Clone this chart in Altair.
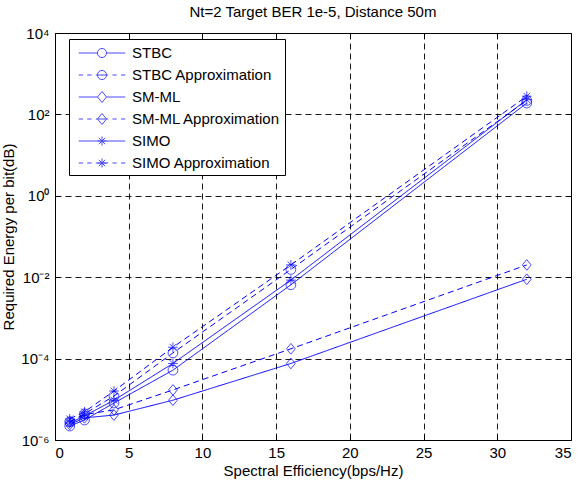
import altair as alt
import pandas as pd

# Spectral efficiency (bps/Hz) at which each scheme was evaluated
eff = [1, 2, 4, 8, 16, 32]

# Required energy per bit for each scheme
stbc = [2.2e-6, 3.1e-6, 8.1e-6, 5.2e-5, 6.5e-3, 1.9e2]
stbc_approx = [2.8e-6, 4.4e-6, 1.2e-5, 1.38e-4, 1.55e-2, 2.2e2]
smml = [2.4e-6, 3.5e-6, 4.1e-6, 9.5e-6, 7.6e-5, 8.9e-3]
smml_approx = [2.8e-6, 4.2e-6, 5.5e-6, 1.7e-5, 1.74e-4, 2.0e-2]
simo = [2.6e-6, 3.9e-6, 9.5e-6, 7.6e-5, 8.5e-3, 2.3e2]
simo_approx = [3.3e-6, 4.9e-6, 1.6e-5, 1.9e-4, 2.0e-2, 2.8e2]

names = ["STBC", "STBC Approximation", "SM-ML", "SM-ML Approximation",
         "SIMO", "SIMO Approximation"]
values = [stbc, stbc_approx, smml, smml_approx, simo, simo_approx]
markers = ["circle", "circle", "diamond", "diamond", "asterisk", "asterisk"]
styles = ["solid", "dashed", "solid", "dashed", "solid", "dashed"]

x_ticks = [0, 5, 10, 15, 20, 25, 30, 35]
y_ticks = [1e-6, 1e-4, 1e-2, 1, 1e2, 1e4]

rows = []
for name, vals, mk, st in zip(names, values, markers, styles):
    for x, y in zip(eff, vals):
        rows.append({"eff": x, "energy": y, "series": name, "marker": mk, "style": st})
df = pd.DataFrame(rows)

BLUE = "#0000ff"
FONT = "Liberation Sans"
W, H = 516, 407

# marker glyphs for the plot area (unit paths, scaled by sqrt(size)/2)
DIAMOND = "M0,-1.1L0.9,0L0,1.1L-0.9,0Z"
STAR = "M0,-1L0,1M-1,0L1,0M-0.7,-0.7L0.7,0.7M-0.7,0.7L0.7,-0.7"

# legend glyphs: line sample with the marker in the middle
SOLID = "M-2.45,0L-0.5,0M0.5,0L2.45,0"
DASHED = "M-2.45,0L-2.0,0M-1.55,0L-1.1,0M-0.65,0L0.65,0M1.1,0L1.55,0M2.0,0L2.45,0"
L_CIRCLE = "M0.48,0A0.48,0.48 0 1,1 -0.48,0A0.48,0.48 0 1,1 0.48,0"
L_DIAMOND = "M0,-0.58L0.47,0L0,0.58L-0.47,0Z"
L_STAR = "M0,-0.48L0,0.48M-0.48,0L0.48,0M-0.34,-0.34L0.34,0.34M-0.34,0.34L0.34,-0.34"
legend_paths = [
    SOLID + L_CIRCLE, DASHED + L_CIRCLE,
    "M-2.45,0L-0.47,0M0.47,0L2.45,0" + L_DIAMOND, DASHED + L_DIAMOND,
    "M-2.45,0L2.45,0" + L_STAR, DASHED + L_STAR,
]

x_scale = alt.Scale(domain=[0, 35], nice=False, zero=False)
y_scale = alt.Scale(type="log", domain=[1e-6, 1e4], nice=False)

y_label_expr = (
    "datum.value < 1e-5 ? '10⁻⁶' : datum.value < 1e-3 ? '10⁻⁴' : "
    "datum.value < 0.1 ? '10⁻²' : datum.value < 10 ? '10⁰' : "
    "datum.value < 1000 ? '10²' : '10⁴'"
)

x_main = alt.X(
    "eff:Q", scale=x_scale,
    axis=alt.Axis(values=x_ticks, title="Spectral Efficiency(bps/Hz)", grid=True,
                  ticks=False, labelPadding=5, titlePadding=3, format="d"),
)
y_main = alt.Y(
    "energy:Q", scale=y_scale,
    axis=alt.Axis(values=y_ticks, title="Required Energy per bit(dB)", grid=True,
                  ticks=False, labelPadding=6, titlePadding=4, labelExpr=y_label_expr),
)

lines = alt.Chart(df).mark_line(strokeWidth=1, color=BLUE).encode(
    x=x_main,
    y=y_main,
    detail="series:N",
    order="eff:Q",
    strokeDash=alt.StrokeDash(
        "style:N",
        scale=alt.Scale(domain=["solid", "dashed"], range=[[1, 0], [6, 4]]),
        legend=None,
    ),
)

# inward tick marks on the bottom and left edges
tick_axis = dict(domain=False, labels=False, grid=False, ticks=True, tickSize=5,
                 tickColor="#000000", title=None)
points = alt.Chart(df).mark_point(filled=False, size=95, strokeWidth=1, color=BLUE).encode(
    x=alt.X("eff:Q", scale=x_scale,
            axis=alt.Axis(orient="top", offset=-H, values=x_ticks[1:-1], **tick_axis)),
    y=alt.Y("energy:Q", scale=y_scale,
            axis=alt.Axis(orient="right", offset=-W, values=y_ticks[1:-1], **tick_axis)),
    shape=alt.Shape(
        "marker:N",
        scale=alt.Scale(domain=["circle", "diamond", "asterisk"],
                        range=["circle", DIAMOND, STAR]),
        legend=None,
    ),
)

# legend layer (draws no marks itself); also carries the top/right inward ticks
legend_layer = alt.Chart(df).transform_filter("datum.eff < 0").mark_point(
    filled=False, strokeWidth=1, color=BLUE
).encode(
    x=alt.X("eff:Q", scale=x_scale,
            axis=alt.Axis(orient="bottom", offset=-H, values=x_ticks[1:-1], **tick_axis)),
    y=alt.Y("energy:Q", scale=y_scale,
            axis=alt.Axis(orient="left", offset=-W, values=y_ticks[1:-1], **tick_axis)),
    shape=alt.Shape(
        "series:N",
        scale=alt.Scale(domain=names, range=legend_paths),
        legend=alt.Legend(
            title=None, orient="none", legendX=14, legendY=6,
            symbolSize=361, symbolStrokeWidth=1, symbolStrokeColor=BLUE,
            symbolFillColor="transparent", symbolOffset=19, labelOffset=20,
            labelFont=FONT, labelFontSize=15, labelColor="#000000", labelLimit=400,
            padding=4, rowPadding=4, strokeColor="#000000", fillColor="#ffffff",
        ),
    ),
)

chart = alt.layer(lines, points, legend_layer).resolve_scale(
    shape="independent"
).properties(
    width=W,
    height=H,
    background="#ffffff",
    title=alt.TitleParams("Nt=2 Target BER 1e-5, Distance 50m", fontSize=15,
                          fontWeight="normal", font=FONT, color="#000000",
                          anchor="middle", offset=6),
    padding={"left": 55, "top": 33, "right": 9, "bottom": 40},
    autosize=alt.AutoSizeParams(type="none"),
).configure_view(
    stroke="#000000", strokeWidth=1
).configure_axis(
    labelFont=FONT, labelFontSize=15, labelColor="#000000",
    titleFont=FONT, titleFontSize=15, titleFontWeight="normal", titleColor="#000000",
    domainColor="#000000", gridColor="#000000", gridDash=[6, 4], gridOpacity=0.9,
    gridWidth=1,
)

chart.save("out.html", embed_options={"renderer": "svg", "actions": False})
